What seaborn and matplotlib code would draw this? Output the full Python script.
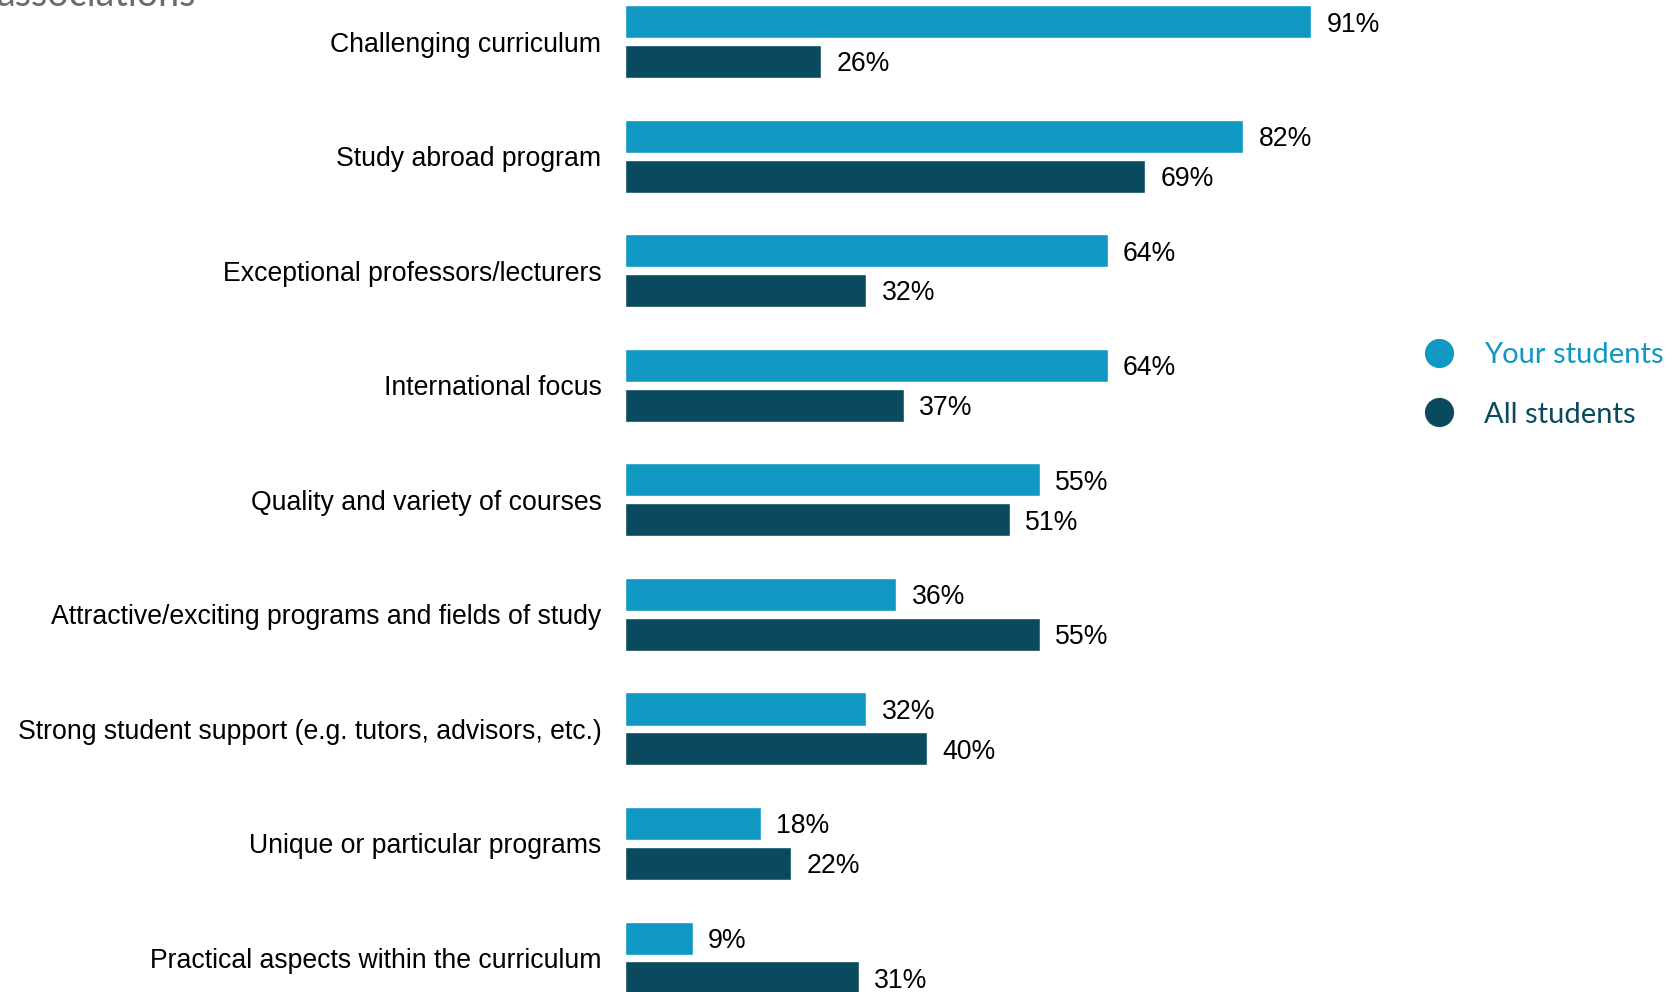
import matplotlib
matplotlib.use("Agg")
import matplotlib.pyplot as plt
from matplotlib.lines import Line2D
import seaborn as sns
import pandas as pd

categories = [
    "Challenging curriculum",
    "Study abroad program",
    "Exceptional professors/lecturers",
    "International focus",
    "Quality and variety of courses",
    "Attractive/exciting programs and fields of study",
    "Strong student support (e.g. tutors, advisors, etc.)",
    "Unique or particular programs",
    "Practical aspects within the curriculum",
]
series_names = ["Your students", "All students"]
your_students = [91, 82, 64, 64, 55, 36, 32, 18, 9]
all_students = [26, 69, 32, 37, 51, 55, 40, 22, 31]
title_text = "associations"

light = "#1098C3"
dark = "#0A4A5F"

sns.set_theme(style="white")
plt.rcParams["font.family"] = ["Liberation Sans", "DejaVu Sans"]

df = pd.DataFrame({
    "category": categories * 2,
    "group": [series_names[0]] * len(categories) + [series_names[1]] * len(categories),
    "value": your_students + all_students,
})

W, H = 1673, 992
fig = plt.figure(figsize=(W / 100, H / 100), dpi=100)
ax = fig.add_axes([625 / W, 0, 754 / W, 1])

sns.barplot(data=df, y="category", x="value", hue="group", order=categories,
            hue_order=series_names, palette=[light, dark], orient="h",
            width=0.695, gap=0.17, ax=ax, legend=False, saturation=1)

for cont in ax.containers:
    anns = ax.bar_label(cont, labels=[f"{int(round(v))}%" for v in cont.datavalues],
                        padding=11, fontsize=19.2, color="black")
    for a in anns:
        a.xyann = (11, -2)

ax.set_xlim(0, 100)
ax.set_ylim(8.297, -0.364)
ax.set_xlabel("")
ax.set_ylabel("")
ax.set_xticks([])
for s in ax.spines.values():
    s.set_visible(False)
ax.tick_params(axis="y", length=0, pad=17, labelsize=19.2, labelcolor="black")

handles = [Line2D([], [], marker="o", linestyle="none", markersize=20, color=c)
           for c in (light, dark)]
fig.legend(handles, series_names, loc="upper left",
           bbox_to_anchor=(1424 / W, 1 - 342 / H), frameon=False,
           handlelength=1.0, handletextpad=1.05, labelspacing=1.15,
           borderpad=0, borderaxespad=0,
           prop={"family": "Lato", "size": 21}, labelcolor=[light, dark])

fig.text(196 / W, 1 - 6 / H, title_text, ha="right", va="baseline",
         fontsize=27, color="#6b6b6b", family="Lato")

fig.savefig("out.png", dpi=100)
